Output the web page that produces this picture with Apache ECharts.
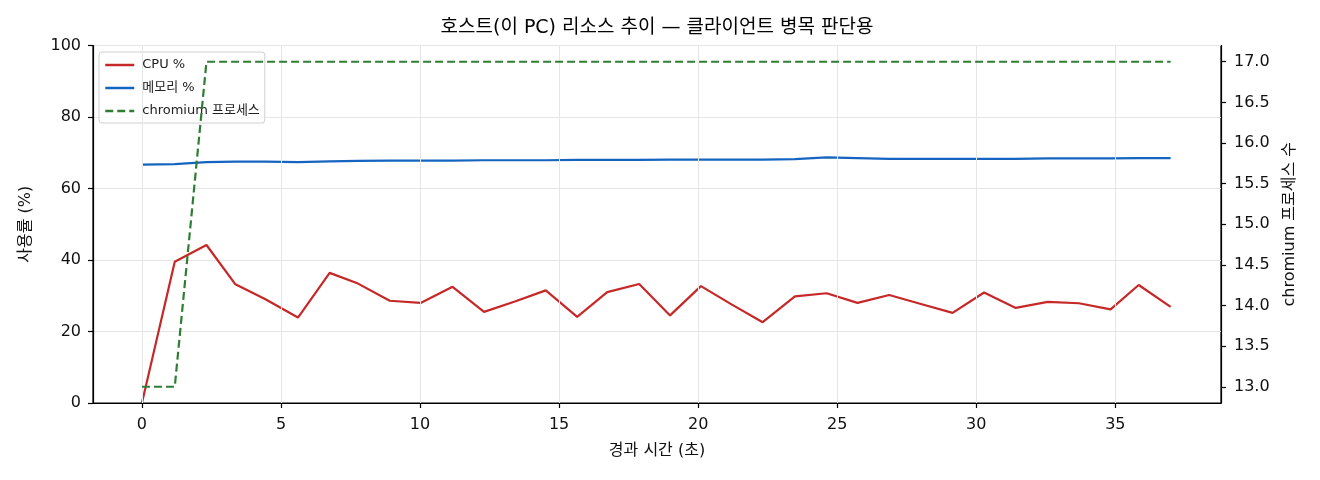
<!DOCTYPE html>
<html>
<head>
<meta charset="utf-8">
<script src="https://cdn.jsdelivr.net/npm/echarts@6/dist/echarts.min.js"></script>
<style>
html,body{margin:0;padding:0;background:#fff;}
#chart{width:1320px;height:480px;}
</style>
</head>
<body>
<div id="chart"></div>
<script>
// ---- data ----
const timeSec = [0, 1.18, 2.32, 3.36, 4.44, 5.61, 6.75, 7.77, 8.91, 10.02,
  11.17, 12.30, 13.41, 14.52, 15.65, 16.73, 17.88, 18.99, 20.10, 21.20,
  22.32, 23.48, 24.62, 25.73, 26.87, 28.01, 29.15, 30.28, 31.42, 32.57,
  33.69, 34.83, 35.84, 36.99];
const cpuPct = [0, 39.5, 44.2, 33.2, 29.0, 23.9, 36.4, 33.4, 28.6, 28.0,
  32.5, 25.5, 28.4, 31.5, 24.1, 31.0, 33.3, 24.5, 32.7, 27.6,
  22.6, 29.8, 30.7, 28.0, 30.2, 27.7, 25.2, 30.9, 26.6, 28.3,
  27.9, 26.2, 33.0, 26.9];
const memPct = [66.7, 66.8, 67.4, 67.5, 67.5, 67.4, 67.6, 67.7, 67.8, 67.8,
  67.8, 67.9, 67.9, 67.9, 68.0, 68.0, 68.0, 68.1, 68.1, 68.1,
  68.1, 68.2, 68.7, 68.5, 68.3, 68.3, 68.3, 68.3, 68.3, 68.4,
  68.4, 68.4, 68.5, 68.5];
const chromiumProcs = [13, 13, 17, 17, 17, 17, 17, 17, 17, 17,
  17, 17, 17, 17, 17, 17, 17, 17, 17, 17,
  17, 17, 17, 17, 17, 17, 17, 17, 17, 17,
  17, 17, 17, 17];
const xTicks = [0, 5, 10, 15, 20, 25, 30, 35];
const rightTicks = [13.0, 13.5, 14.0, 14.5, 15.0, 15.5, 16.0, 16.5, 17.0];
const seriesNames = ['CPU %', '메모리 %', 'chromium 프로세스'];
const titleText = '호스트(이 PC) 리소스 추이 — 클라이언트 병목 판단용';

const pair = (xs, ys) => xs.map((x, i) => [x, ys[i]]);

const FONT = '"DejaVu Sans", "Noto Sans CJK KR", sans-serif';
const GRIDC = '#e6e6e6';

const chart = echarts.init(document.getElementById('chart'), null, {renderer: 'canvas'});
chart.setOption({
  animation: false,
  backgroundColor: '#fff',
  title: {
    text: titleText,
    left: 657, top: 19, textAlign: 'center', padding: 0,
    textStyle: {fontFamily: FONT, fontSize: 19, fontWeight: 'normal', color: '#000'}
  },
  legend: {
    data: seriesNames,
    orient: 'vertical',
    left: 99, top: 52, z: 4,
    padding: [6, 5, 5, 5],
    itemWidth: 29, itemHeight: 14, itemGap: 9,
    itemStyle: {opacity: 0},
    lineStyle: {width: 2.5},
    backgroundColor: 'rgba(255,255,255,0.8)',
    borderColor: '#d0d0d0', borderWidth: 1, borderRadius: 3,
    textStyle: {fontFamily: FONT, fontSize: 13, color: '#222', lineHeight: 14, padding: [0, 0, 0, 3]}
  },
  grid: {
    left: 93, right: 99, top: 45.5, bottom: 77,
    show: true, borderColor: '#000', borderWidth: 1.2, backgroundColor: 'transparent'
  },
  xAxis: {
    type: 'value', min: -1.76, max: 38.8,
    name: '경과 시간 (초)', nameLocation: 'middle', nameGap: 40,
    nameTextStyle: {fontFamily: FONT, fontSize: 16, color: '#111'},
    axisLine: {show: true, onZero: false, lineStyle: {color: '#000', width: 1.2}},
    axisTick: {show: true, inside: false, length: 5, customValues: xTicks, lineStyle: {color: '#000', width: 1.2}},
    axisLabel: {show: true, margin: 14, customValues: xTicks, fontFamily: FONT, fontSize: 16, color: '#111'},
    splitLine: {show: false}
  },
  yAxis: [{
    type: 'value', min: 0, max: 100, interval: 20, position: 'left',
    name: '사용률 (%)', nameLocation: 'middle', nameGap: 59, nameRotate: 90,
    nameTextStyle: {fontFamily: FONT, fontSize: 16, color: '#111'},
    axisLine: {show: true, onZero: false, lineStyle: {color: '#000', width: 1.2}},
    axisTick: {show: true, inside: false, length: 5, lineStyle: {color: '#000', width: 1.2}},
    axisLabel: {margin: 12, fontFamily: FONT, fontSize: 16, color: '#111'},
    splitLine: {show: true, lineStyle: {color: GRIDC, width: 1}}
  }, {
    type: 'value', min: 12.8, max: 17.2, position: 'right',
    name: 'chromium 프로세스 수', nameLocation: 'middle', nameGap: 61, nameRotate: 90,
    nameTextStyle: {fontFamily: FONT, fontSize: 16, color: '#111'},
    axisLine: {show: true, onZero: false, lineStyle: {color: '#000', width: 1.2}},
    axisTick: {show: true, inside: false, length: 5, customValues: rightTicks, lineStyle: {color: '#000', width: 1.2}},
    axisLabel: {margin: 13, customValues: rightTicks, fontFamily: FONT, fontSize: 16, color: '#111',
      formatter: v => Number(v).toFixed(1)},
    splitLine: {show: false}
  }],
  series: [{
    type: 'line', name: '__grid', data: [], z: 0, silent: true,
    markLine: {
      silent: true, symbol: ['none', 'none'], animation: false,
      label: {show: false},
      lineStyle: {color: GRIDC, width: 1, type: 'solid'},
      emphasis: {disabled: true},
      data: xTicks.map(v => ({xAxis: v}))
    }
  }, {
    type: 'line', name: seriesNames[0], yAxisIndex: 0,
    data: pair(timeSec, cpuPct), symbol: 'none', z: 3,
    itemStyle: {color: '#c62828'},
    lineStyle: {color: '#c62828', width: 2.2}
  }, {
    type: 'line', name: seriesNames[1], yAxisIndex: 0,
    data: pair(timeSec, memPct), symbol: 'none', z: 3,
    itemStyle: {color: '#1565c0'},
    lineStyle: {color: '#1565c0', width: 2.2}
  }, {
    type: 'line', name: seriesNames[2], yAxisIndex: 1,
    data: pair(timeSec, chromiumProcs), symbol: 'none', z: 6,
    itemStyle: {color: '#2e7d32'},
    lineStyle: {color: '#2e7d32', width: 2.2, type: [8, 4]}
  }]
});
</script>
</body>
</html>
